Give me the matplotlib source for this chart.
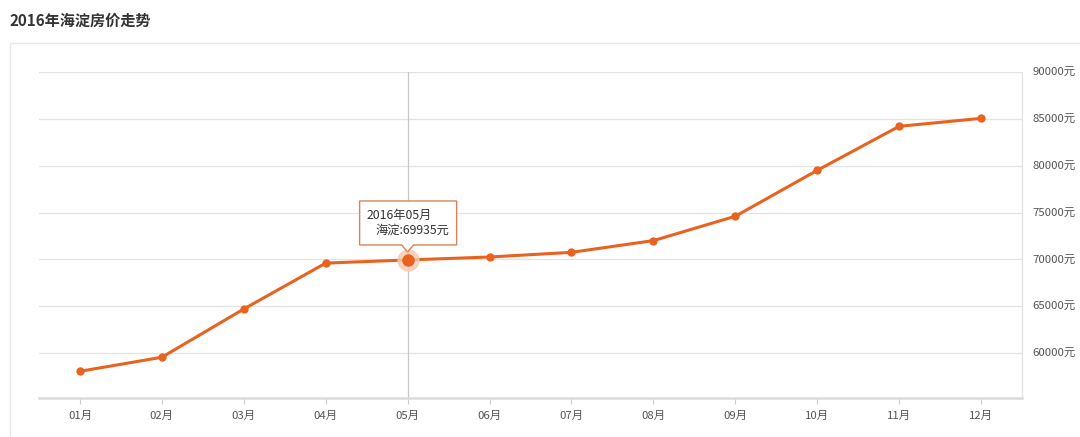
import matplotlib
matplotlib.use('Agg')
import matplotlib.pyplot as plt
from matplotlib.patches import Rectangle, Polygon

plt.rcParams['font.family'] = ['Noto Sans CJK SC', 'DejaVu Sans']

# data
months = ['01月', '02月', '03月', '04月', '05月', '06月',
          '07月', '08月', '09月', '10月', '11月', '12月']
prices = [58050, 59550, 64700, 69600, 69935, 70250,
          70750, 72000, 74600, 79500, 84200, 85050]
y_ticks = [60000, 65000, 70000, 75000, 80000, 85000, 90000]
highlight = 4  # 05月 has the tooltip

line_color = '#e8631f'
grid_color = '#e3e3e3'
text_color = '#555555'
tip_edge = '#d9825a'

fig = plt.figure(figsize=(10.8, 4.37), dpi=100)
W, H = 1080, 437

# title and panel frame
fig.text(10 / W, 1 - 21 / H, '2016年海淀房价走势', fontsize=10.9,
         fontweight='bold', color='#333333', va='center', ha='left')
fig.patches.append(Rectangle((10 / W, -0.01), 1.0, 1 - 43 / H + 0.01,
                             transform=fig.transFigure, fill=False,
                             edgecolor='#e8e8e8', linewidth=1.0))

ax = fig.add_axes([39 / W, 1 - 398 / H, (1022 - 39) / W, (398 - 72) / H])
x = list(range(len(months)))

ax.set_xlim(-0.5, len(months) - 0.5)
ax.set_ylim(55200, 90000)

for v in y_ticks:
    ax.axhline(v, color=grid_color, linewidth=0.9, zorder=0)

ax.yaxis.tick_right()
ax.set_yticks(y_ticks)
ax.set_yticklabels([f'{v}元' for v in y_ticks])
ax.tick_params(axis='y', length=0, pad=7.5, labelsize=8.2, labelcolor=text_color)
ax.set_xticks(x)
ax.set_xticklabels(months)
ax.tick_params(axis='x', length=4, width=0.8, color='#cccccc', pad=5,
               labelsize=8.2, labelcolor=text_color)

for side in ['top', 'left']:
    ax.spines[side].set_visible(False)
ax.spines['right'].set_color(grid_color)
ax.spines['right'].set_linewidth(0.9)
ax.spines['bottom'].set_color('#dadada')
ax.spines['bottom'].set_linewidth(1.8)

# crosshair at highlighted month
ax.axvline(highlight, color='#c8c8c8', linewidth=0.9, zorder=1)

ax.plot(x, prices, color=line_color, linewidth=2.2, marker='o',
        markersize=5, zorder=3)
ax.plot(highlight, prices[highlight], 'o', markersize=15,
        color='#f7c9b0', alpha=0.8, zorder=4)
ax.plot(highlight, prices[highlight], 'o', markersize=8,
        color=line_color, zorder=5)

# tooltip box with a pointer, placed in pixels relative to the point
px, py = ax.transData.transform((highlight, prices[highlight]))
tip_y = py + 8          # pointer tip just above the point
base_y = tip_y + 7      # bottom edge of the box
top_y = base_y + 44
left_x, right_x = px - 48, px + 49
outline = [(left_x, top_y), (right_x, top_y), (right_x, base_y),
           (px + 6, base_y), (px, tip_y), (px - 6, base_y), (left_x, base_y)]
outline = [(a / W, b / H) for a, b in outline]
fig.patches.append(Polygon(outline, closed=True, transform=fig.transFigure,
                           facecolor='white', edgecolor=tip_edge,
                           linewidth=1.0, zorder=6))
fig.text((left_x + 7) / W, (top_y - 14) / H, f'2016年{months[highlight]}',
         fontsize=8.8, color='#333333', ha='left', va='center', zorder=7)
fig.text((left_x + 16) / W, (top_y - 29) / H, f'海淀:{prices[highlight]}元',
         fontsize=8.8, color='#333333', ha='left', va='center', zorder=7)

fig.savefig('out.png', dpi=100)
